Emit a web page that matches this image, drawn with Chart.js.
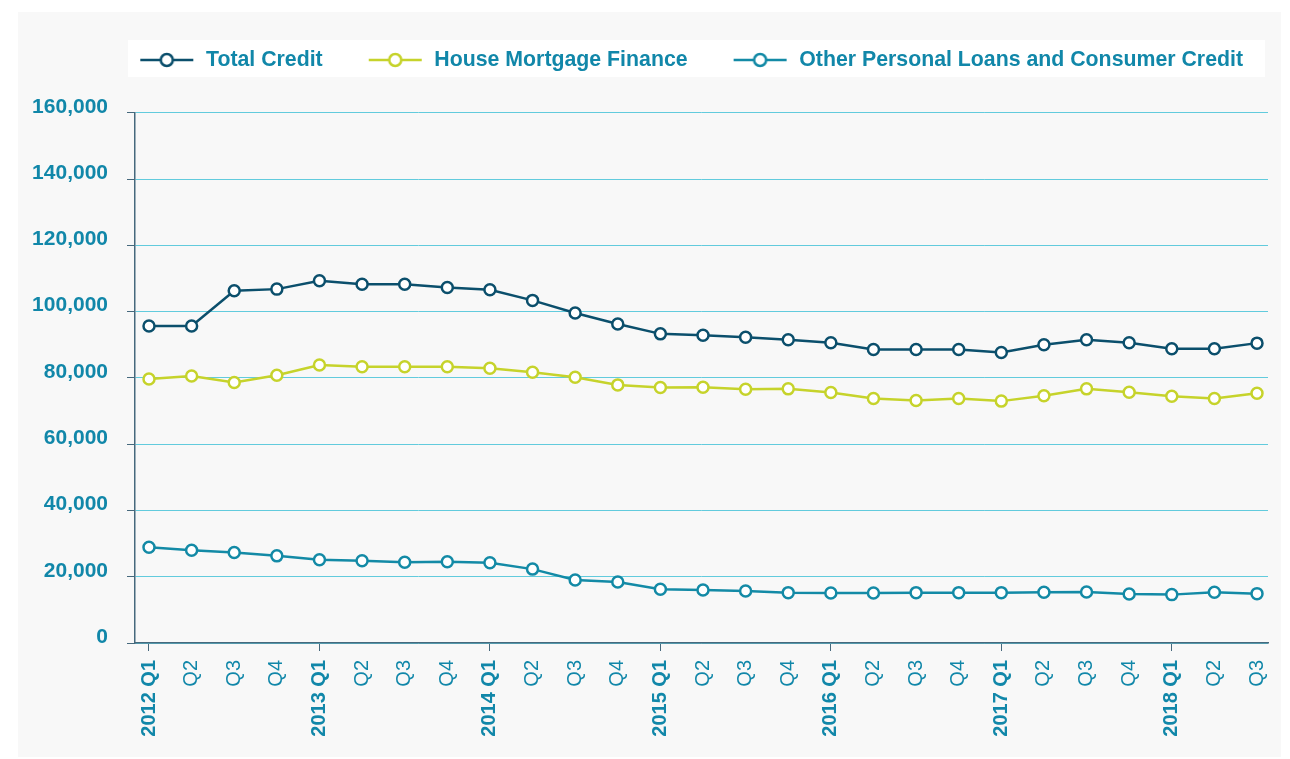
<!DOCTYPE html>
<html>
<head>
<meta charset="utf-8">
<script src="https://cdn.jsdelivr.net/npm/chart.js@4.4.1/dist/chart.umd.min.js"></script>
<style>
  body { margin: 0; background: #fff; }
  #wrap { position: absolute; left: 18px; top: 12px; width: 1263px; height: 745px; background: #f8f8f8; }
</style>
</head>
<body>
<div id="wrap"><canvas id="creditChart" width="1263" height="745"></canvas></div>
<script>
// quarters 2012 Q1 .. 2018 Q3
const quarters = [
  '2012 Q1', 'Q2', 'Q3', 'Q4',
  '2013 Q1', 'Q2', 'Q3', 'Q4',
  '2014 Q1', 'Q2', 'Q3', 'Q4',
  '2015 Q1', 'Q2', 'Q3', 'Q4',
  '2016 Q1', 'Q2', 'Q3', 'Q4',
  '2017 Q1', 'Q2', 'Q3', 'Q4',
  '2018 Q1', 'Q2', 'Q3'
];
const totalCredit = [95700, 95700, 106300, 106800, 109300, 108300, 108300, 107300, 106600, 103400, 99600, 96300,
  93300, 92900, 92300, 91500, 90600, 88600, 88600, 88600, 87700, 90000, 91500, 90600, 88800, 88800, 90500];
const mortgage = [79700, 80600, 78600, 80800, 83900, 83400, 83400, 83400, 82900, 81700, 80200, 77900,
  77100, 77200, 76600, 76700, 75600, 73800, 73200, 73800, 73000, 74600, 76700, 75700, 74500, 73800, 75400];
const otherLoans = [28900, 28000, 27300, 26300, 25100, 24800, 24400, 24500, 24200, 22300, 19000, 18400,
  16200, 16000, 15700, 15200, 15100, 15100, 15200, 15200, 15200, 15300, 15400, 14800, 14600, 15300, 14900];
const seriesNames = ['Total Credit', 'House Mortgage Finance', 'Other Personal Loans and Consumer Credit'];
const yTicks = [0, 20000, 40000, 60000, 80000, 100000, 120000, 140000, 160000];

const colors = ['#0b4f6c', '#c6d32b', '#138aa6'];
const textColor = '#1187a9';
const axisColor = '#46697d';
const gridColor = '#62cbdd';
const fontFamily = "'Liberation Sans', Arial, sans-serif";

// legend icon: line with an open circle; empty space on the left works as the gap between items
const iconLead = 21;
const iconWidth = 76;
function makeIcon(color) {
  const c = document.createElement('canvas');
  c.width = iconWidth; c.height = 18;
  const g = c.getContext('2d');
  g.strokeStyle = color; g.lineWidth = 2.5;
  g.beginPath(); g.moveTo(iconLead, 9); g.lineTo(iconLead + 53, 9); g.stroke();
  g.beginPath(); g.arc(iconLead + 26.5, 9, 6, 0, Math.PI * 2);
  g.fillStyle = '#fff'; g.fill(); g.stroke();
  return c;
}
const legendIcons = colors.map(makeIcon);

const toPoints = arr => arr.map((v, i) => ({ x: i, y: v }));

// white strip behind the legend
const legendBg = {
  id: 'legendBg',
  beforeDraw(chart) {
    const ctx = chart.ctx;
    const hb = chart.legend.legendHitBoxes[0];
    const cy = hb.top + hb.height / 2;
    ctx.save();
    ctx.fillStyle = '#ffffff';
    ctx.fillRect(chart.chartArea.left - 7, cy - 20, chart.chartArea.right - chart.chartArea.left + 4, 37);
    ctx.restore();
  }
};

function lineSet(label, data, color) {
  return {
    label: label,
    data: toPoints(data),
    borderColor: color,
    backgroundColor: color,
    borderWidth: 2.5,
    pointRadius: 5.5,
    pointBorderWidth: 2.5,
    pointBackgroundColor: '#ffffff',
    pointBorderColor: color,
    tension: 0
  };
}

new Chart(document.getElementById('creditChart'), {
  type: 'line',
  data: {
    datasets: [
      lineSet(seriesNames[0], totalCredit, colors[0]),
      lineSet(seriesNames[1], mortgage, colors[1]),
      lineSet(seriesNames[2], otherLoans, colors[2])
    ]
  },
  options: {
    responsive: false,
    animation: false,
    layout: { padding: { top: 12.35, left: 0, right: 13, bottom: 0 } },
    plugins: {
      tooltip: { enabled: false },
      // empty title only used as spacer between legend and plot
      title: {
        display: true,
        text: ' ',
        weight: 500,
        font: { size: 10, lineHeight: 1.2 },
        padding: { top: 0, bottom: 20.2 }
      },
      legend: {
        align: 'end',
        labels: {
          usePointStyle: true,
          pointStyleWidth: iconWidth,
          padding: 25,
          color: textColor,
          font: { family: fontFamily, size: 21.3, weight: 'bold' },
          generateLabels: chart => Chart.defaults.plugins.legend.labels.generateLabels(chart)
            .map((l, i) => Object.assign(l, { pointStyle: legendIcons[i] }))
        }
      }
    },
    scales: {
      x: {
        type: 'linear',
        min: -0.3285,
        max: 26.258,
        afterFit: s => { s.height = 114; s.paddingLeft = 0; s.paddingRight = 0; },
        afterBuildTicks: s => { s.ticks = quarters.map((q, i) => ({ value: i })); },
        border: { color: axisColor, width: 1.5 },
        grid: {
          drawOnChartArea: false,
          tickLength: 8,
          tickColor: c => (c.tick && c.tick.value % 4 === 0) ? axisColor : 'rgba(0,0,0,0)'
        },
        ticks: {
          autoSkip: false,
          minRotation: 90,
          maxRotation: 90,
          padding: 9,
          color: textColor,
          font: c => ({ family: fontFamily, size: 20, weight: (c.tick && c.tick.value % 4 === 0) ? 'bold' : 'normal' }),
          callback: v => quarters[v]
        }
      },
      y: {
        min: yTicks[0],
        max: yTicks[yTicks.length - 1],
        afterFit: s => { s.width = 117; },
        afterBuildTicks: s => { s.ticks = yTicks.map(v => ({ value: v })); },
        border: { color: axisColor, width: 1.5 },
        grid: { color: gridColor, lineWidth: 1, tickLength: 8, tickColor: axisColor },
        ticks: {
          padding: 19,
          labelOffset: -6,
          color: textColor,
          font: { family: fontFamily, size: 21, weight: 'bold' }
        }
      }
    }
  },
  plugins: [legendBg]
});
</script>
</body>
</html>
